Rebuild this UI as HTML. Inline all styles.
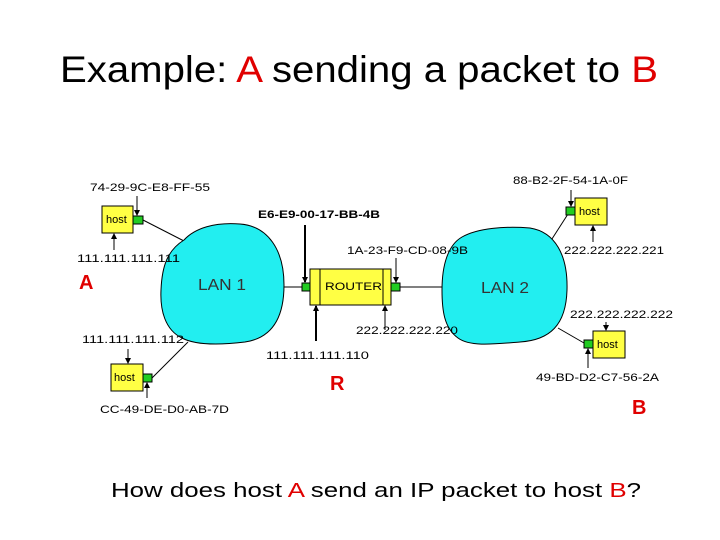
<!DOCTYPE html>
<html><head><meta charset="utf-8"><style>
html,body{margin:0;padding:0;background:#fff;width:720px;height:540px;overflow:hidden}
svg{display:block}
text{font-family:"Liberation Sans",Arial,sans-serif}
</style></head><body>
<svg width="720" height="540" viewBox="0 0 720 540" xmlns="http://www.w3.org/2000/svg">
<defs><marker id="ah" markerWidth="6" markerHeight="6" refX="5" refY="3" orient="auto" markerUnits="userSpaceOnUse"><path d="M0,0 L6,3 L0,6 z" fill="#000"/></marker></defs>
<text x="60" y="82" font-size="37" textLength="598" lengthAdjust="spacingAndGlyphs">Example: <tspan fill="#e00000">A</tspan> sending a packet to <tspan fill="#e00000">B</tspan></text>

<!-- connectors -->
<g stroke="#000" stroke-width="1" fill="none">
<line x1="143" y1="220" x2="184" y2="241"/>
<line x1="152" y1="378" x2="188" y2="342"/>
<line x1="284" y1="287" x2="302" y2="287"/>
<line x1="400" y1="287" x2="442" y2="287"/>
<line x1="550" y1="242" x2="568" y2="214"/>
<line x1="558" y1="328" x2="584" y2="343"/>
</g>

<!-- LAN blobs -->
<path d="M184,240 C195,228 215,222 240,224 C268,226 284,250 284,285 C284,318 272,338 245,342 C220,345 195,345 182,338 C165,330 160,310 161,290 C162,265 168,250 184,240 Z" fill="#22eef0" stroke="#000" stroke-width="1"/>
<path d="M462,237 C478,228 505,226 530,228 C555,232 568,255 567,290 C566,325 550,340 520,342 C495,344 470,347 458,338 C444,328 442,310 442,290 C442,265 448,245 462,237 Z" fill="#22eef0" stroke="#000" stroke-width="1"/>
<text x="198" y="290" font-size="16" fill="#333" textLength="48" lengthAdjust="spacingAndGlyphs">LAN 1</text>
<text x="481" y="293" font-size="16" fill="#333" textLength="48" lengthAdjust="spacingAndGlyphs">LAN 2</text>

<!-- hosts -->
<g stroke="#000" stroke-width="1">
<rect x="102" y="206" width="31" height="27" fill="#ffff44"/>
<rect x="133" y="216" width="10" height="8" fill="#22cc22"/>
<rect x="111" y="364" width="32" height="27" fill="#ffff44"/>
<rect x="143" y="374" width="9" height="8" fill="#22cc22"/>
<rect x="575" y="198" width="32" height="27" fill="#ffff44"/>
<rect x="566" y="207" width="9" height="8" fill="#22cc22"/>
<rect x="593" y="331" width="32" height="27" fill="#ffff44"/>
<rect x="584" y="340" width="9" height="8" fill="#22cc22"/>
<rect x="310" y="269" width="81" height="36" fill="#ffff44"/>
<line x1="320" y1="269" x2="320" y2="305"/>
<line x1="383" y1="269" x2="383" y2="305"/>
<rect x="302" y="283" width="8" height="8" fill="#22cc22"/>
<rect x="391" y="283" width="9" height="8" fill="#22cc22"/>
</g>
<g font-size="11">
<text x="106" y="223">host</text>
<text x="114" y="381">host</text>
<text x="579" y="215">host</text>
<text x="597" y="348">host</text>
<text x="325" y="290" textLength="57" lengthAdjust="spacingAndGlyphs">ROUTER</text>
</g>

<!-- arrows -->
<g stroke="#000" stroke-width="1" marker-end="url(#ah)">
<line x1="137" y1="196" x2="137" y2="215"/>
<line x1="114" y1="250" x2="114" y2="234"/>
<line x1="305" y1="225" x2="305" y2="282" stroke-width="2"/>
<line x1="316" y1="341" x2="316" y2="306" stroke-width="2"/>
<line x1="396" y1="258" x2="396" y2="282"/>
<line x1="385" y1="330" x2="385" y2="306"/>
<line x1="571" y1="190" x2="571" y2="206"/>
<line x1="593" y1="242" x2="593" y2="226"/>
<line x1="606" y1="322" x2="606" y2="330"/>
<line x1="588" y1="368" x2="588" y2="349"/>
<line x1="128" y1="349" x2="128" y2="363"/>
<line x1="147" y1="398" x2="147" y2="383"/>
</g>

<!-- labels -->
<g font-size="11">
<text x="90" y="191" textLength="120" lengthAdjust="spacingAndGlyphs">74-29-9C-E8-FF-55</text>
<text x="77" y="262" textLength="103" lengthAdjust="spacingAndGlyphs">111.111.111.111</text>
<text x="258" y="218" textLength="122" lengthAdjust="spacingAndGlyphs" font-weight="bold">E6-E9-00-17-BB-4B</text>
<text x="347" y="254" textLength="121" lengthAdjust="spacingAndGlyphs">1A-23-F9-CD-08-9B</text>
<text x="513" y="184" textLength="115" lengthAdjust="spacingAndGlyphs">88-B2-2F-54-1A-0F</text>
<text x="564" y="254" textLength="100" lengthAdjust="spacingAndGlyphs">222.222.222.221</text>
<text x="570" y="318" textLength="103" lengthAdjust="spacingAndGlyphs">222.222.222.222</text>
<text x="356" y="334" textLength="102" lengthAdjust="spacingAndGlyphs">222.222.222.220</text>
<text x="82" y="343" textLength="102" lengthAdjust="spacingAndGlyphs">111.111.111.112</text>
<text x="266" y="359" textLength="103" lengthAdjust="spacingAndGlyphs">111.111.111.110</text>
<text x="536" y="381" textLength="123" lengthAdjust="spacingAndGlyphs">49-BD-D2-C7-56-2A</text>
<text x="100" y="413" textLength="129" lengthAdjust="spacingAndGlyphs">CC-49-DE-D0-AB-7D</text>
</g>
<g fill="#e00000" font-weight="bold" font-size="20">
<text x="79" y="289">A</text>
<text x="330" y="390">R</text>
<text x="632" y="414">B</text>
</g>

<text x="111" y="497" font-size="20" textLength="530" lengthAdjust="spacingAndGlyphs">How does host <tspan fill="#e00000">A</tspan> send an IP packet to host <tspan fill="#e00000">B</tspan>?</text>
</svg>
</body></html>
